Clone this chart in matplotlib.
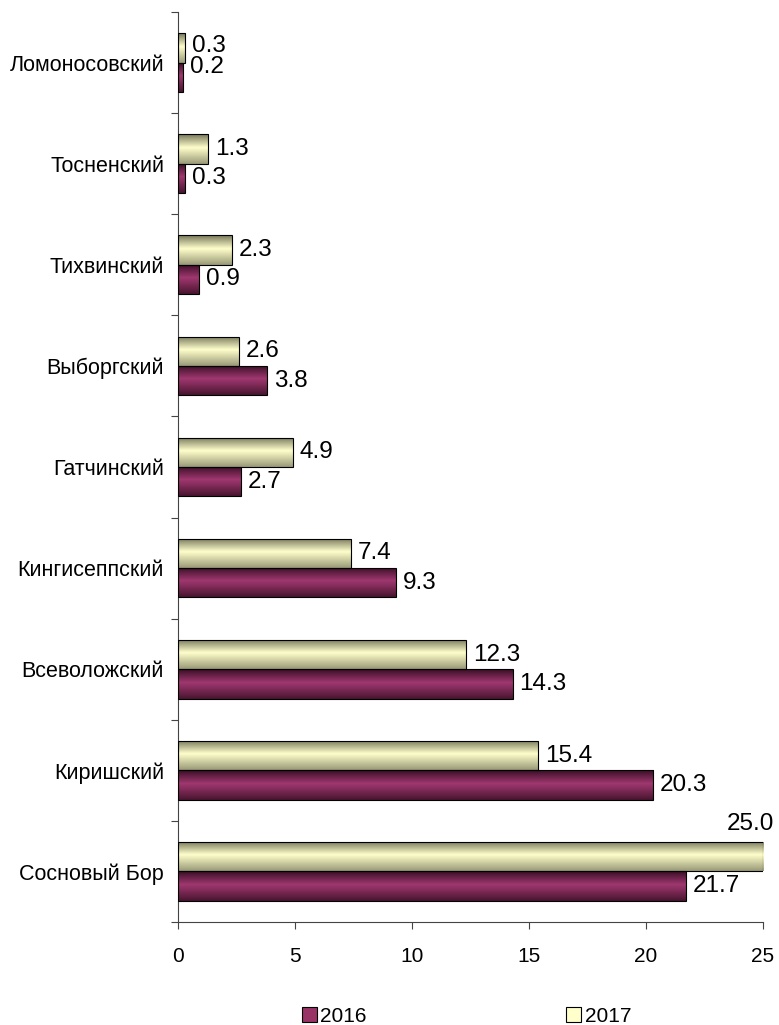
import numpy as np
import matplotlib
matplotlib.use("Agg")
import matplotlib.pyplot as plt
from matplotlib.colors import LinearSegmentedColormap
from matplotlib.patches import Patch

plt.rcParams['font.family'] = ['Liberation Sans', 'DejaVu Sans']

# районы, сверху вниз как на картинке
districts = ['Ломоносовский', 'Тосненский', 'Тихвинский', 'Выборгский', 'Гатчинский',
             'Кингисеппский', 'Всеволожский', 'Киришский', 'Сосновый Бор']
v2016 = [0.2, 0.3, 0.9, 3.8, 2.7, 9.3, 14.3, 20.3, 21.7]
v2017 = [0.3, 1.3, 2.3, 2.6, 4.9, 7.4, 12.3, 15.4, 25.0]
xticks = [0, 5, 10, 15, 20, 25]

# снизу вверх для оси y
districts = districts[::-1]
v2016 = v2016[::-1]
v2017 = v2017[::-1]
y = np.arange(len(districts))
h = 0.29

cmap16 = LinearSegmentedColormap.from_list('c16', [(0, '#3a0f26'), (0.45, '#a03870'), (1, '#4a1530')])
cmap17 = LinearSegmentedColormap.from_list('c17', [(0, '#77775a'), (0.45, '#ffffcc'), (1, '#9a9a78')])

fig = plt.figure(figsize=(7.79, 10.25), dpi=100)
ax = fig.add_axes([0.2285, 0.1005, 0.751, 0.8878])

b16 = ax.barh(y - h / 2, v2016, height=h, color='#993366', edgecolor='black', linewidth=0.8, zorder=2)
b17 = ax.barh(y + h / 2, v2017, height=h, color='#ffffcc', edgecolor='black', linewidth=0.8, zorder=2)

grad = np.linspace(0, 1, 64).reshape(-1, 1)
for bars, cm in ((b16, cmap16), (b17, cmap17)):
    for p in bars:
        x0, y0, w, hh = p.get_x(), p.get_y(), p.get_width(), p.get_height()
        im = ax.imshow(grad, cmap=cm, aspect='auto', extent=(x0, x0 + w, y0, y0 + hh),
                       origin='upper', zorder=2.5, interpolation='bilinear')
        im.set_clip_path(p)
        p.set_facecolor('none')
        p.set_zorder(3)

ax.set_xlim(0, 25)
ax.set_ylim(-0.5, len(districts) - 0.5)

fs = 17.5
for yi, v in zip(y, v2016):
    dy = 7 if v == 0.2 else 0
    ax.annotate(f'{v:.1f}', (v, yi - h / 2), xytext=(5, dy), textcoords='offset points',
                ha='left', va='center', fontsize=fs)
for yi, v in zip(y, v2017):
    if v >= 25:
        ax.annotate(f'{v:.1f}', (v, yi + h), xytext=(8, 13), textcoords='offset points',
                    ha='right', va='center', fontsize=fs)
    else:
        dy = 1 if v == 0.3 else 0
        ax.annotate(f'{v:.1f}', (v, yi + h / 2), xytext=(5, dy), textcoords='offset points',
                    ha='left', va='center', fontsize=fs)

ax.set_yticks(np.arange(-0.5, len(districts), 1))
ax.set_yticklabels([])
ax.set_yticks(y, minor=True)
ax.set_yticklabels(districts, minor=True, fontsize=15.5)
ax.tick_params(axis='y', which='minor', length=0, pad=10)
ax.tick_params(axis='y', which='major', length=5, color='#444444')
ax.set_xticks(xticks)
ax.set_xticklabels([str(t) for t in xticks], fontsize=15)
ax.tick_params(axis='x', length=5, pad=13, color='#444444')

for s in ('top', 'right'):
    ax.spines[s].set_visible(False)
for s in ('left', 'bottom'):
    ax.spines[s].set_color('#444444')

handles = [Patch(facecolor='#993366', edgecolor='black', linewidth=0.8),
           Patch(facecolor='#ffffcc', edgecolor='black', linewidth=0.8)]
ax.legend(handles, ['2016', '2017'], loc='center', bbox_to_anchor=(0.493, -0.104),
          ncol=2, frameon=False, fontsize=15, columnspacing=9.6, handlelength=0.72,
          handleheight=0.72, handletextpad=0.15)

fig.savefig('out.png', dpi=100)
